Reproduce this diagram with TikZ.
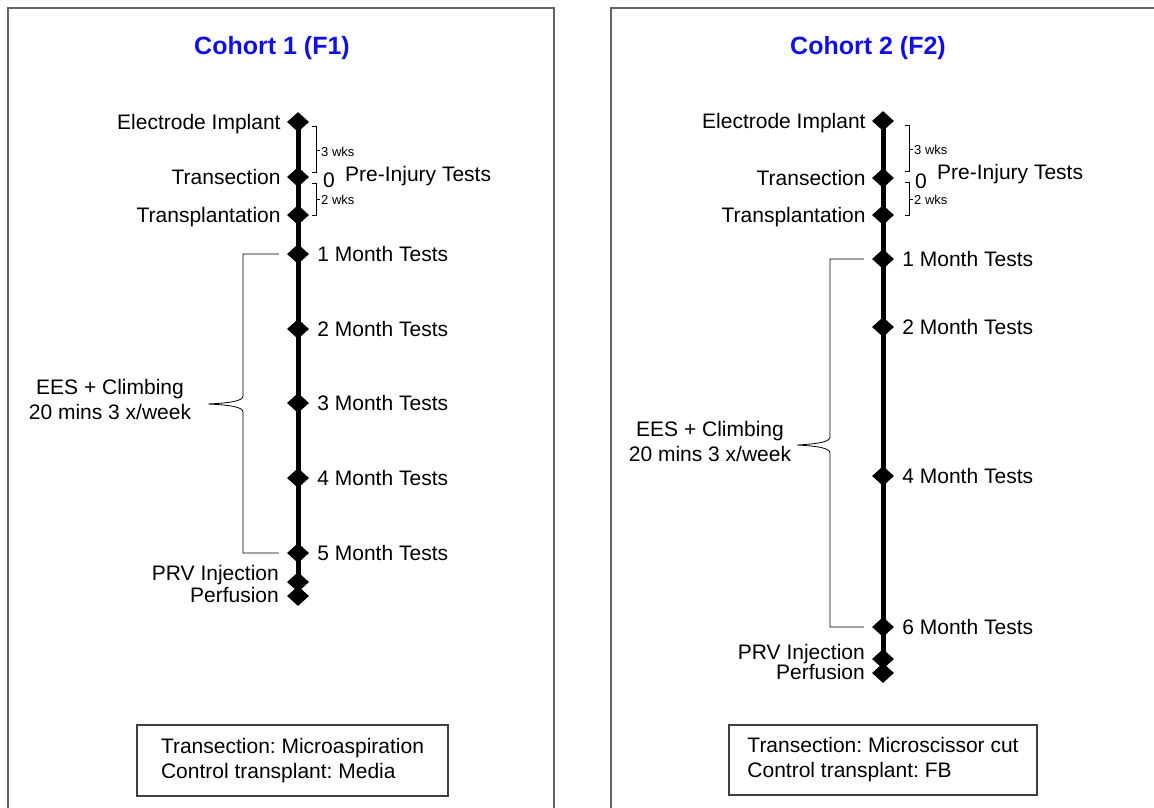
\documentclass[tikz,border=0pt]{standalone}
\usepackage{fontspec}
\setmainfont{Liberation Sans}
\usetikzlibrary{shapes.geometric,positioning,calc}
\definecolor{titleblue}{RGB}{15,15,230}
\definecolor{framegray}{RGB}{100,100,100}
\tikzset{
  evt/.style={diamond, fill=black, inner sep=0pt, minimum width=22pt, minimum height=20pt},
  lbl/.style={inner sep=0pt, font=\fontsize{21}{25}\selectfont, text height=15pt, text depth=0pt},
  wks/.style={inner sep=0pt, font=\fontsize{13}{15}\selectfont},
  ees/.style={inner sep=0pt, font=\fontsize{21}{25}\selectfont, align=center},
  ttl/.style={inner sep=0pt, font=\fontsize{25}{29}\selectfont\bfseries, text=titleblue},
  axis/.style={line width=5pt},
  brk/.style={line width=0.8pt},
  panel/.style={draw=framegray, line width=1.5pt},
  note/.style={draw=black!75, line width=1.2pt, align=left, inner sep=0pt,
    font=\fontsize{21}{25}\selectfont}
}
\frenchspacing
\begin{document}
\begin{tikzpicture}[x=1pt,y=-1pt]
  \clip (0,0) rectangle (1154,807);
  \fill[white] (0,0) rectangle (1154,807);
  % Rahmen
  \draw[panel] (8,8) rectangle (554,830);
  \draw[panel] (611,8) rectangle (1170,830);

  % Kohorte 1
  \node[ttl] (t1) at (272,48) {Cohort 1 (F1)};
  \node[evt] (ei1) at (298,122) {};
  \node[evt] (tr1) at (298,177) {};
  \node[evt] (tp1) at (298,215) {};
  \foreach \y/\v in {254/1, 329/2, 403/3, 478/4, 553/5} {
    \node[evt] (a\v) at (298,\y) {};
    \node[lbl, right=8pt of a\v] (la\v) {\v\ Month Tests};
  }
  \node[evt] (prv1) at (298,582) {};
  \node[evt] (pf1) at (298,596) {};
  \draw[axis] (ei1.center) -- (pf1.center);
  \node[lbl, left=6pt of ei1] (lei1) {Electrode Implant};
  \node[lbl, left=6pt of tr1] (ltr1) {Transection};
  \node[lbl, left=6pt of tp1] (ltp1) {Transplantation};
  \node[lbl, anchor=east] (lprv1) at (279,573) {PRV Injection};
  \node[lbl, anchor=east] (lpf1) at (279,595) {Perfusion};

  % Wochen
  \draw[brk] (312,126) -- (316,126) -- (316,172) -- (312,172);
  \draw[brk] (316,150) -- (320,150);
  \node[wks, anchor=west] (w3a) at (321,152) {3 wks};
  \draw[brk] (312,183) -- (316,183) -- (316,215) -- (312,215);
  \draw[brk] (316,199) -- (320,199);
  \node[wks, anchor=west] (w2a) at (321,200) {2 wks};
  \node[lbl] (z1) at (329,180) {0};
  \node[lbl, anchor=west] (pi1) at (345,174) {Pre-Injury Tests};

  % Training
  \node[ees] (ees1) at (110,399) {EES + Climbing\\20 mins 3 x/week};
  \draw[brk] ([xshift=-8pt]a1.west) -- (243,254) -- (243,396)
    .. controls (243,401) and (230,403) .. (208,404)
    .. controls (230,405) and (243,407) .. (243,412) -- (243,553) -- ([xshift=-8pt]a5.west);

  \node[note, minimum width=311pt, minimum height=71pt] (box1) at (292.5,760.5)
    {Transection: Microaspiration\\Control transplant: Media};

  % Kohorte 2
  \node[ttl] (t2) at (868,48) {Cohort 2 (F2)};
  \node[evt] (ei2) at (883,121) {};
  \node[evt] (tr2) at (883,178) {};
  \node[evt] (tp2) at (883,215) {};
  \foreach \y/\v in {259/1, 327/2, 476/4, 627/6} {
    \node[evt] (b\v) at (883,\y) {};
    \node[lbl, right=8pt of b\v] (lb\v) {\v\ Month Tests};
  }
  \node[evt] (prv2) at (883,659) {};
  \node[evt] (pf2) at (883,673) {};
  \draw[axis] (ei2.center) -- (pf2.center);
  \node[lbl, left=6pt of ei2] (lei2) {Electrode Implant};
  \node[lbl, left=6pt of tr2] (ltr2) {Transection};
  \node[lbl, left=6pt of tp2] (ltp2) {Transplantation};
  \node[lbl, anchor=east] (lprv2) at (865,652) {PRV Injection};
  \node[lbl, anchor=east] (lpf2) at (865,672) {Perfusion};

  % Wochen
  \draw[brk] (905,125) -- (909,125) -- (909,171) -- (905,171);
  \draw[brk] (909,149) -- (913,149);
  \node[wks, anchor=west] (w3b) at (914,150) {3 wks};
  \draw[brk] (905,182) -- (909,182) -- (909,215) -- (905,215);
  \draw[brk] (909,199) -- (913,199);
  \node[wks, anchor=west] (w2b) at (914,200) {2 wks};
  \node[lbl] (z2) at (921,181) {0};
  \node[lbl, anchor=west] (pi2) at (937,172) {Pre-Injury Tests};

  % Training
  \node[ees] (ees2) at (710,441) {EES + Climbing\\20 mins 3 x/week};
  \draw[brk] ([xshift=-8pt]b1.west) -- (830,259) -- (830,437)
    .. controls (830,442) and (817,444) .. (797,445)
    .. controls (817,446) and (830,448) .. (830,453) -- (830,627) -- ([xshift=-8pt]b6.west);

  \node[note, minimum width=308pt, minimum height=70pt] (box2) at (883,760)
    {Transection: Microscissor cut\\Control transplant: FB};
\end{tikzpicture}
\end{document}
